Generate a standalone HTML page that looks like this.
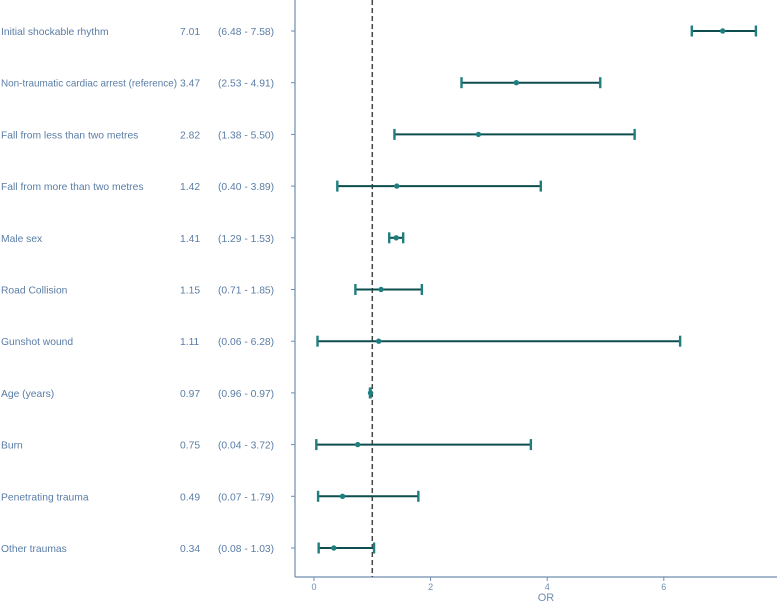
<!DOCTYPE html>
<html><head><meta charset="utf-8"><style>
body{margin:0;background:#fff}
svg{display:block;font-family:"Liberation Sans",sans-serif}
</style></head><body>
<svg id="c" width="777" height="601"></svg>
<script>
const labels=["Initial shockable rhythm","Non-traumatic cardiac arrest (reference)","Fall from less than two metres","Fall from more than two metres","Male sex","Road Collision","Gunshot wound","Age (years)","Burn","Penetrating trauma","Other traumas"];
const orVals=[7.01,3.47,2.82,1.42,1.41,1.15,1.11,0.97,0.75,0.49,0.34];
const lows=[6.48,2.53,1.38,0.40,1.29,0.71,0.06,0.96,0.04,0.07,0.08];
const highs=[7.58,4.91,5.50,3.89,1.53,1.85,6.28,0.97,3.72,1.79,1.03];
const xTicks=[0,2,4,6];
const ns="http://www.w3.org/2000/svg";
const svg=document.getElementById('c');
const X=v=>314+v*58.3;
const Y=i=>31+i*51.7;
function mk(t,a){const e=document.createElementNS(ns,t);for(const k in a)e.setAttribute(k,a[k]);svg.appendChild(e);return e;}
let ax=mk('line',{x1:295,y1:0,x2:295,y2:577,stroke:'#6f8db0','stroke-width':1.2});

let bx=mk('line',{x1:295,y1:577,x2:777,y2:577,stroke:'#6f8db0','stroke-width':1.2});

xTicks.forEach(t=>{
 let l=mk('line',{x1:X(t),y1:577,x2:X(t),y2:581,stroke:'#6f8db0'});
 
 let tx=mk('text',{x:X(t),y:590,'font-size':9,fill:'#6f8db0','text-anchor':'middle'});tx.textContent=t;
 
});
let ot=mk('text',{x:546,y:601,'font-size':11,fill:'#6f8db0','text-anchor':'middle'});ot.textContent='OR';

let ref=mk('line',{x1:X(1),y1:0,x2:X(1),y2:577,stroke:'#444','stroke-width':1.5,'stroke-dasharray':'5,3'});

labels.forEach((lab,i)=>{
 const y=Y(i);
 let t1=mk('text',{x:1,y:y+4,'font-size':10.3,fill:'#5a7da6'});t1.textContent=lab;
 if(lab.length>35){t1.setAttribute('textLength',176);t1.setAttribute('lengthAdjust','spacingAndGlyphs');}
 
 let t2=mk('text',{x:180,y:y+4,'font-size':10.3,fill:'#5a7da6'});t2.textContent=orVals[i].toFixed(2);
 
 let t3=mk('text',{x:218,y:y+4,'font-size':10.3,fill:'#5a7da6'});t3.textContent='('+lows[i].toFixed(2)+' - '+highs[i].toFixed(2)+')';
 
 let tk=mk('line',{x1:291,y1:y,x2:295,y2:y,stroke:'#6f8db0'});
 
 let ln=mk('line',{x1:X(lows[i]),y1:y,x2:X(highs[i]),y2:y,stroke:'#0d4d4d','stroke-width':2});
 
 [lows[i],highs[i]].forEach(v=>{
  let w=mk('line',{x1:X(v),y1:y-5.5,x2:X(v),y2:y+5.5,stroke:'#1f7f7f','stroke-width':2.4});
  
 });
 let p=mk('circle',{cx:X(orVals[i]),cy:y,r:2.7,fill:'#1f7f7f'});
 
});
</script>
</body></html>
